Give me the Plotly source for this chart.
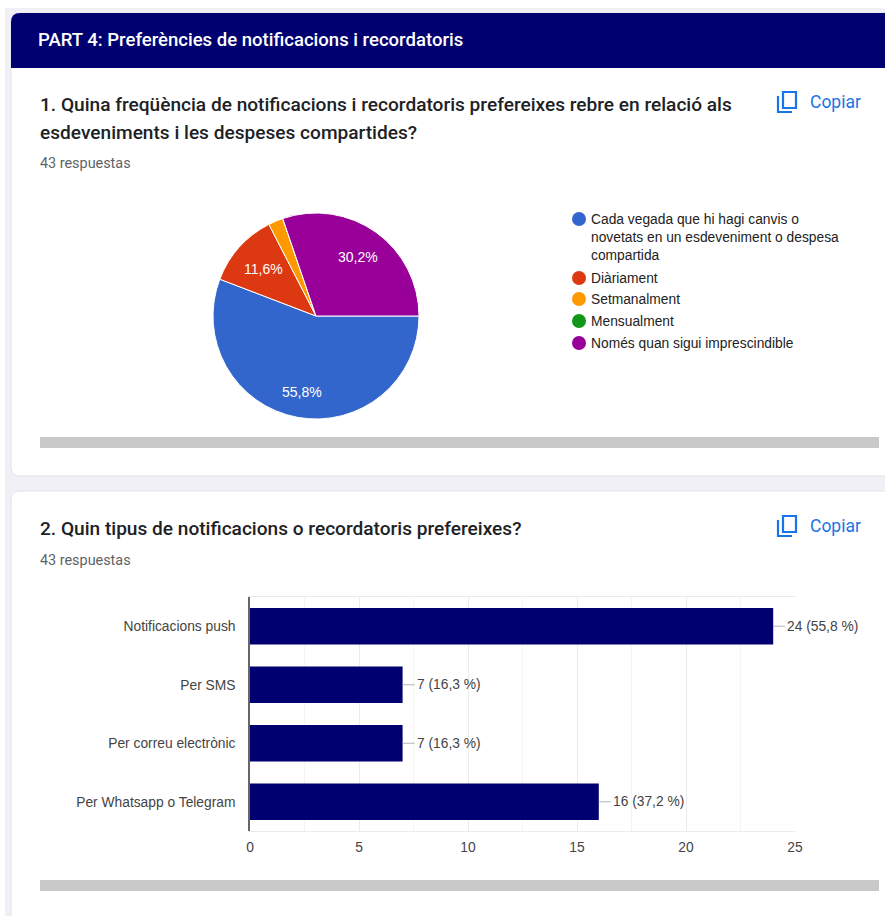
import math
import plotly.graph_objects as go

W, H = 885, 916

# Form summary data
section_title = "PART 4: Preferències de notificacions i recordatoris"
q1_lines = ["1. Quina freqüència de notificacions i recordatoris prefereixes rebre en relació als",
            "esdeveniments i les despeses compartides?"]
q2_title = "2. Quin tipus de notificacions o recordatoris prefereixes?"
answers_label = "43 respuestas"

pie_labels = ["Cada vegada que hi hagi canvis o<br>novetats en un esdeveniment o despesa<br>compartida",
              "Diàriament", "Setmanalment", "Mensualment", "Només quan sigui imprescindible"]
pie_values = [24, 5, 1, 0, 13]
pie_colors = ["#3366cc", "#dc3912", "#ff9900", "#109618", "#990099"]
pie_label_radius = [0.75, 0.69, 0, 0, 0.70]

bar_labels = ["Notificacions push", "Per SMS", "Per correu electrònic", "Per Whatsapp o Telegram"]
bar_values = [24, 7, 7, 16]
bar_value_text = ["24 (55,8 %)", "7 (16,3 %)", "7 (16,3 %)", "16 (37,2 %)"]
x_ticks = [0, 5, 10, 15, 20, 25]

NAVY = "#000070"
PAGE = "#f0f0f6"
BLUE = "#1a73e8"
UI_FONT = "Roboto"
CHART_FONT = "Liberation Sans"


def px(x):
    return x / W


def py(y):
    return 1 - y / H


def rect(x0, y0, x1, y1, color, line=None):
    return dict(type="rect", xref="paper", yref="paper", layer="below",
                x0=px(x0), x1=px(x1), y0=py(y0), y1=py(y1), fillcolor=color,
                line=dict(color=line or color, width=1 if line else 0))


def rounded(x0, y0, x1, y1, r, color, line=None, bottom=True):
    """Rounded panel; the right side runs off the page."""
    bottom_part = (f"L{px(x1)},{py(y1)} L{px(x0 + r)},{py(y1)} "
                   f"Q{px(x0)},{py(y1)} {px(x0)},{py(y1 - r)} ") if bottom else f"L{px(x1)},{py(y1)} L{px(x0)},{py(y1)} "
    path = (f"M{px(x0)},{py(y0 + r)} Q{px(x0)},{py(y0)} {px(x0 + r)},{py(y0)} "
            f"L{px(x1)},{py(y0)} " + bottom_part + "Z")
    return dict(type="path", xref="paper", yref="paper", layer="below", path=path,
                fillcolor=color, line=dict(color=line or color, width=1 if line else 0))


def copy_icon(x, y):
    """Outlined 'copy' glyph with its top-left corner at x, y."""
    front = dict(type="rect", xref="paper", yref="paper",
                 x0=px(x + 6), x1=px(x + 19), y0=py(y + 1), y1=py(y + 17),
                 line=dict(color=BLUE, width=2.2), fillcolor="rgba(0,0,0,0)")
    back = dict(type="path", xref="paper", yref="paper",
                path=(f"M{px(x + 1)},{py(y + 5)} L{px(x + 1)},{py(y + 21)} "
                      f"L{px(x + 15)},{py(y + 21)}"),
                line=dict(color=BLUE, width=2.2))
    return [front, back]


def text(x, y, s, size, color, font=UI_FONT, weight=None, anchor="left"):
    return dict(xref="paper", yref="paper", x=px(x), y=py(y), text=s, showarrow=False,
                xanchor=anchor, yanchor="middle", align="left",
                font=dict(family=font, size=size, color=color, weight=weight))


shapes = [
    rect(5, 8, W, H, PAGE),
    rounded(11, 13, W + 5, 476, 9, "#ffffff", "#e3e3ea"),
    rounded(11, 13, W + 5, 68, 9, NAVY, bottom=False),
    rounded(11, 491, W + 5, H + 10, 9, "#ffffff", "#e3e3ea"),
    rect(40, 437, 879, 448, "#c9c9c9"),
    rect(40, 880, 879, 891, "#c9c9c9"),
]
shapes += copy_icon(777, 91) + copy_icon(777, 515)

annotations = [
    text(36, 40, section_title, 18.55, "#ffffff", weight=500),
    text(38, 104, q1_lines[0], 19.1, "#202124", weight=500),
    text(38, 132, q1_lines[1], 19.1, "#202124", weight=500),
    text(38, 164, answers_label, 14.4, "#5f6368"),
    text(38, 528, q2_title, 19.1, "#202124", weight=500),
    text(38, 560, answers_label, 14.4, "#5f6368"),
    text(808, 102, "Copiar", 17.5, BLUE),
    text(808, 526, "Copiar", 17.5, BLUE),
]

# Legend of the pie: one dot per answer, wrapped text lines
legend_y = [219, 278, 299, 321, 343]
legend_text_y = [237.5, 278, 299, 321, 343]
for label, color, dot_y, label_y in zip(pie_labels, pie_colors, legend_y, legend_text_y):
    shapes.append(dict(type="circle", xref="paper", yref="paper", fillcolor=color,
                       x0=px(572), x1=px(586), y0=py(dot_y - 7), y1=py(dot_y + 7),
                       line=dict(width=0)))
    annotations.append(text(589, label_y, label, 13.8, "#222222", font=CHART_FONT))

# Percentage labels placed along each slice's bisector, clockwise from three o'clock
CX, CY, R = 316, 316, 103
running = 0
for value, radius in zip(pie_values, pie_label_radius):
    share = value / sum(pie_values)
    mid = (running + value / 2) / sum(pie_values) * 2 * math.pi
    running += value
    if radius:
        label = f"{share * 100:.1f}%".replace(".", ",")
        annotations.append(text(CX + radius * R * math.cos(mid), CY + radius * R * math.sin(mid),
                                label, 14, "#ffffff", font=CHART_FONT, anchor="center"))

# Value labels with a short leader line from the end of each bar
for label, value, caption in zip(bar_labels, bar_values, bar_value_text):
    annotations.append(dict(x=value, y=label, xref="x", yref="y", text=caption,
                            showarrow=True, arrowhead=0, arrowwidth=1, arrowcolor="#b5b5b5",
                            ax=12, ay=0, xanchor="left", yanchor="middle", standoff=0,
                            font=dict(family=CHART_FONT, size=13.8, color="#444444")))

fig = go.Figure()
fig.add_trace(go.Pie(values=pie_values, labels=pie_labels, sort=False, direction="clockwise",
                     rotation=90, marker=dict(colors=pie_colors, line=dict(color="#ffffff", width=1)),
                     textinfo="none", showlegend=False, hoverinfo="label+percent",
                     domain=dict(x=[px(CX - R), px(CX + R)], y=[py(CY + R), py(CY - R)])))
fig.add_trace(go.Bar(x=bar_values, y=bar_labels, orientation="h", marker=dict(color=NAVY, line=dict(width=0)),
                     width=0.62, showlegend=False, xaxis="x", yaxis="y"))

fig.update_layout(
    width=W, height=H, autosize=False, margin=dict(l=0, r=0, t=0, b=0),
    paper_bgcolor="#ffffff", plot_bgcolor="rgba(0,0,0,0)",
    font=dict(family=CHART_FONT, size=13.8, color="#444444"),
    shapes=shapes, annotations=annotations,
    xaxis=dict(domain=[px(250), px(795)], range=[0, 25], tickvals=x_ticks, ticks="", zeroline=False,
               automargin=False,
               showgrid=True, gridcolor="#ebebeb", gridwidth=1,
               minor=dict(dtick=2.5, showgrid=True, gridcolor="#f5f5f5", gridwidth=1),
               showline=True, linecolor="#ebebeb", mirror=True,
               tickfont=dict(family=CHART_FONT, size=13.8, color="#444444"), ticklabelstandoff=3),
    yaxis=dict(domain=[py(831), py(597)], categoryorder="array", categoryarray=bar_labels[::-1],
               automargin=False,
               showline=True, linecolor="#666666", linewidth=1.5, showgrid=False, zeroline=False,
               ticks="", ticklabelstandoff=10, anchor="x",
               tickfont=dict(family=CHART_FONT, size=13.8, color="#444444")),
)

fig.write_html("out.html")
